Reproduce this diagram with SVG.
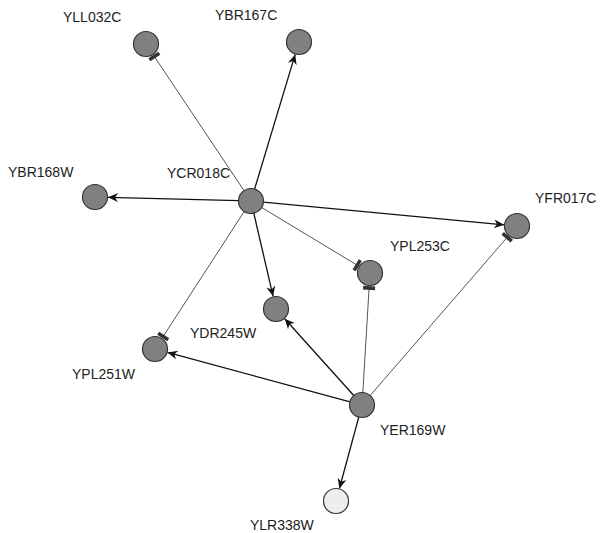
<svg xmlns="http://www.w3.org/2000/svg" width="600" height="533" viewBox="0 0 600 533">
<style>
  .node circle { fill: #808080; stroke: #333; stroke-width: 1.2; }
  .node.light circle { fill: #eeeeee; }
  .node text { font-family: "Liberation Sans", Arial, Helvetica, sans-serif; font-size: 14px; fill: #222; }
  .act { stroke: #111; stroke-width: 1.3; fill: none; marker-end: url(#arrow); }
  .inh { stroke: #555; stroke-width: 1; fill: none; marker-end: url(#tbar); }
</style>
<defs>
  <marker id="arrow" markerUnits="userSpaceOnUse" viewBox="-11 -6 12 12" refX="0" refY="0" markerWidth="12" markerHeight="12" orient="auto" overflow="visible">
    <path d="M0,0 L-10,-4.5 L-7,0 L-10,4.5 Z" fill="#111"/>
  </marker>
  <marker id="tbar" markerUnits="userSpaceOnUse" viewBox="-3 -7 6 14" refX="0" refY="0" markerWidth="6" markerHeight="14" orient="auto" overflow="visible">
    <rect x="-1.8" y="-6" width="3.6" height="12" fill="#333"/>
  </marker>
</defs>
<g id="edges">
  <line class="inh" x1="244.0" y1="190.6" x2="154.3" y2="56.5"/>
  <line class="act" x1="254.6" y1="189.0" x2="295.2" y2="54.4"/>
  <line class="act" x1="238.5" y1="200.7" x2="108.0" y2="197.3"/>
  <line class="act" x1="263.4" y1="202.2" x2="504.1" y2="224.8"/>
  <line class="inh" x1="261.7" y1="207.5" x2="357.2" y2="265.2"/>
  <line class="act" x1="253.8" y1="213.2" x2="273.1" y2="296.3"/>
  <line class="inh" x1="244.2" y1="211.5" x2="163.2" y2="336.4"/>
  <line class="act" x1="350.0" y1="401.9" x2="167.5" y2="352.4"/>
  <line class="act" x1="354.0" y1="395.7" x2="284.7" y2="318.7"/>
  <line class="inh" x1="362.8" y1="393.0" x2="369.1" y2="288.0"/>
  <line class="inh" x1="370.2" y1="395.5" x2="507.2" y2="237.3"/>
  <line class="act" x1="358.9" y1="416.6" x2="339.4" y2="488.5"/>
</g>
<g id="YLL032C" class="node"><circle cx="146" cy="44" r="12.5"/><text x="63" y="22">YLL032C</text></g>
<g id="YBR167C" class="node"><circle cx="299" cy="42" r="12.5"/><text x="215" y="20">YBR167C</text></g>
<g id="YBR168W" class="node"><circle cx="95" cy="197" r="12.5"/><text x="8" y="177">YBR168W</text></g>
<g id="YCR018C" class="node"><circle cx="251" cy="201" r="12.5"/><text x="167" y="178">YCR018C</text></g>
<g id="YFR017C" class="node"><circle cx="517" cy="226" r="12.5"/><text x="535" y="203">YFR017C</text></g>
<g id="YPL253C" class="node"><circle cx="370" cy="273" r="12.5"/><text x="390" y="251">YPL253C</text></g>
<g id="YDR245W" class="node"><circle cx="276" cy="309" r="12.5"/><text x="190" y="338">YDR245W</text></g>
<g id="YPL251W" class="node"><circle cx="155" cy="349" r="12.5"/><text x="72" y="379">YPL251W</text></g>
<g id="YER169W" class="node"><circle cx="362" cy="405" r="12.5"/><text x="380" y="435">YER169W</text></g>
<g id="YLR338W" class="node light"><circle cx="336" cy="501" r="12.5"/><text x="250" y="530">YLR338W</text></g>
</svg>
